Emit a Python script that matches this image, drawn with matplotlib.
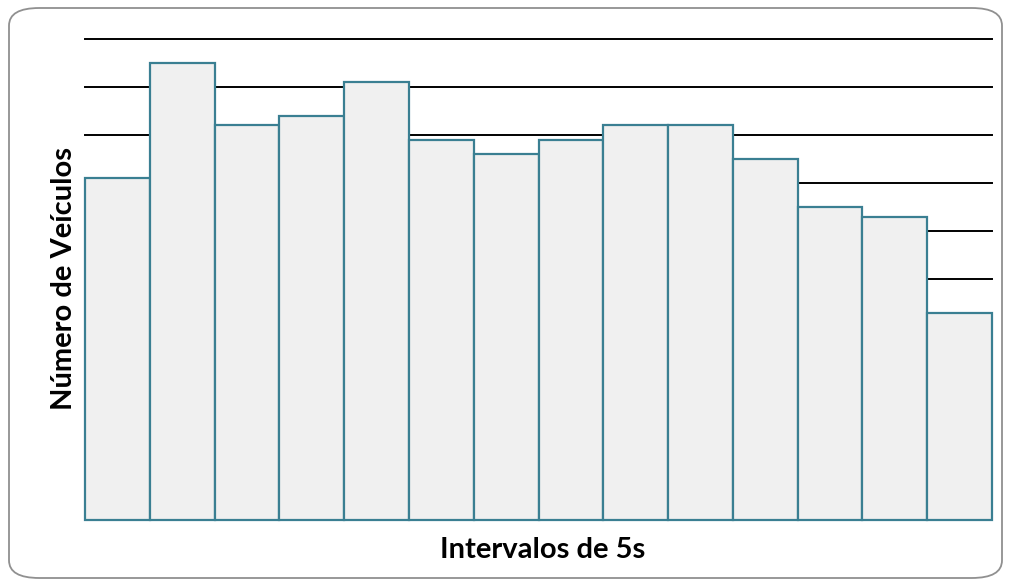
import matplotlib.pyplot as plt
from matplotlib.patches import FancyBboxPatch

# Number of vehicles counted in each 5 s interval
intervals = list(range(1, 15))
vehicles = [71, 95, 82, 84, 91, 79, 76, 79, 82, 82, 75, 65, 63, 43]
grid_levels = [10, 20, 30, 40, 50, 60, 70, 80, 90, 100]

W, H = 1011, 587
fig = plt.figure(figsize=(W / 100, H / 100), dpi=100)

# rounded frame around the whole chart
frame = FancyBboxPatch((9 / W, 9 / H), 993 / W, 570 / H,
                       boxstyle="round,pad=0,rounding_size=0.03",
                       transform=fig.transFigure, facecolor='none',
                       edgecolor='#909090', linewidth=1.3, zorder=-1)
fig.patches.append(frame)

ax = fig.add_axes([85 / W, (H - 519.5) / H, 907 / W, 480.5 / H])
ax.set_facecolor('none')

for g in grid_levels:
    ax.axhline(g, color='black', linewidth=1.4, zorder=1, clip_on=False)

bars = ax.bar(intervals, vehicles, width=1.0, color='#f0f0f0',
              edgecolor='#3a7f92', linewidth=1.6, zorder=2)
for b in bars:
    b.set_clip_on(False)

ax.set_xlim(0.5, 14.5)
ax.set_ylim(0, 100)
ax.set_xticks([])
ax.set_yticks([])
for s in ax.spines.values():
    s.set_visible(False)

fig.text(543 / W, 1 - 550 / H, 'Intervalos de 5s', fontsize=21,
         fontweight='bold', family='Lato', ha='center', va='center')
fig.text(64 / W, 1 - 279 / H, 'Número de Veículos', fontsize=21,
         fontweight='bold', family='Lato', rotation=90,
         ha='center', va='center')

fig.savefig('out.png', dpi=100)
